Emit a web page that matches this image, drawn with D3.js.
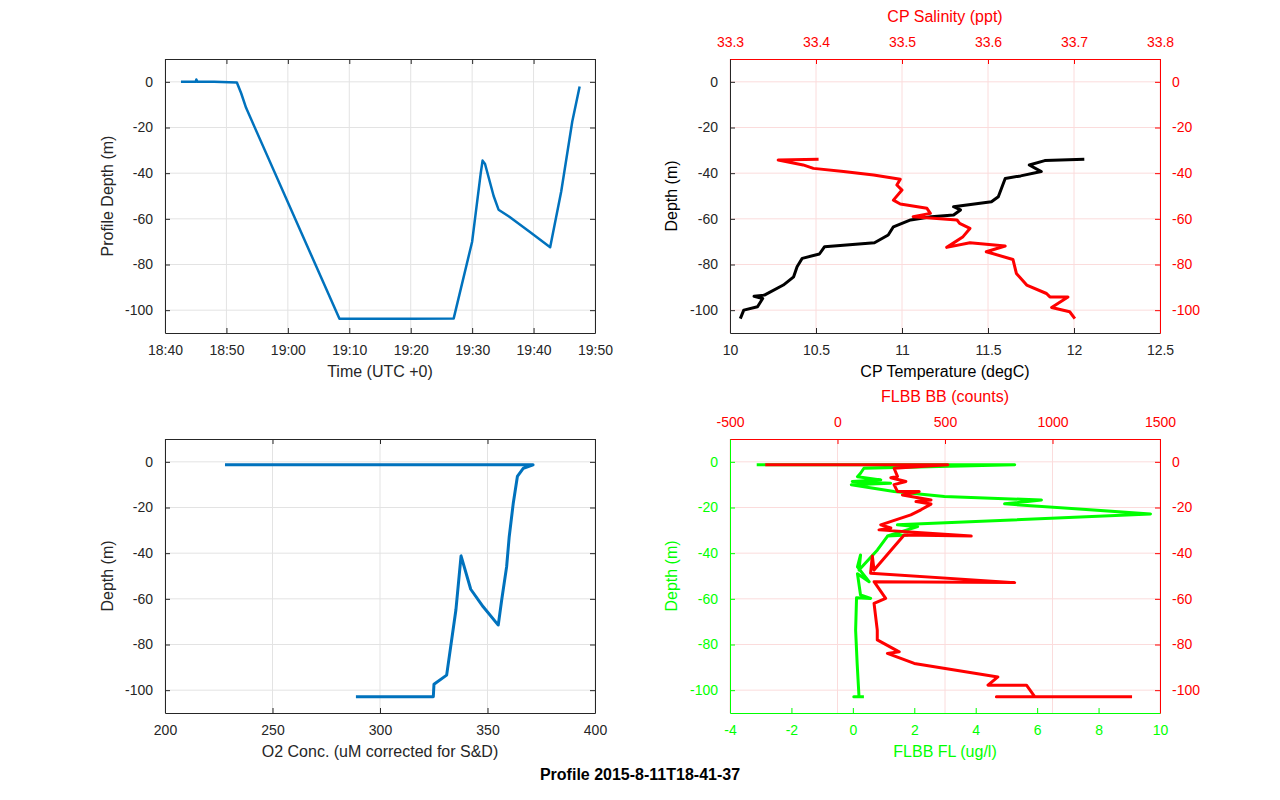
<!DOCTYPE html>
<html>
<head>
<meta charset="utf-8">
<script src="https://cdn.jsdelivr.net/npm/d3@7"></script>
<style>
body { margin: 0; background: #fff; }
text { font-family: "Liberation Sans", Arial, sans-serif; }
</style>
</head>
<body>
<svg id="chart" width="1280" height="800"></svg>
<script>
// Panel 1: time (minutes after 18:00) vs profile depth
var timeMin = [42.6, 44.5, 45.0, 45.1, 45.3, 48.0, 51.7, 52.4, 53.2, 68.4, 75.0, 80.0, 87.0, 90.0, 91.4, 91.7, 92.1, 93.5, 94.3, 96.0, 99.3, 102.7, 104.5, 106.3, 107.5];
var profDepth = [0, 0, 0, 1, 0, 0, -0.3, -5, -11.4, -103.8, -103.8, -103.8, -103.6, -70, -40, -34.5, -36, -50, -56, -59, -65.6, -72.4, -48, -17.4, -2];

// Panel 2: temperature and salinity vs depth
var tempVal = [10.06, 10.08, 10.16, 10.19, 10.14, 10.20, 10.31, 10.37, 10.39, 10.42, 10.52, 10.55, 10.84, 10.92, 10.95, 11.05, 11.17, 11.30, 11.34, 11.30, 11.52, 11.56, 11.60, 11.69, 11.81, 11.74, 11.83, 12.06];
var tempDepth = [-103.7, -100, -98.5, -94.9, -93.9, -93.4, -89, -85.4, -81, -77.3, -75.4, -72.2, -70.5, -67.1, -63.5, -60.5, -59.1, -58.3, -56.1, -54.7, -52.5, -50.3, -42.3, -41.2, -39.3, -36.4, -34.5, -33.9];
var salVal = [33.403, 33.356, 33.385, 33.397, 33.432, 33.467, 33.498, 33.494, 33.500, 33.490, 33.498, 33.529, 33.533, 33.513, 33.564, 33.567, 33.579, 33.571, 33.552, 33.579, 33.620, 33.598, 33.629, 33.633, 33.645, 33.668, 33.672, 33.693, 33.674, 33.695, 33.701];
var salDepth = [-33.9, -34.2, -36.4, -37.9, -39.3, -40.8, -42.7, -45.2, -47.4, -51.8, -53.5, -55.4, -57.6, -59.1, -60.5, -62, -64.2, -67.8, -72.5, -70.5, -71.9, -74.4, -77.8, -83.9, -89, -92.7, -94.2, -94.2, -98.8, -100.7, -103.7];

// Panel 3: oxygen vs depth
var o2Val = [227.9, 371.2, 366.7, 363.9, 362.0, 360.1, 358.9, 356.6, 355.0, 348.0, 342.2, 337.7, 335.3, 331.0, 325.1, 324.8, 288.8];
var o2Depth = [-1.3, -1.3, -2.8, -6.4, -18, -32.8, -45.9, -60.5, -71.5, -63.5, -55.8, -41.2, -64.9, -93.4, -97.4, -102.9, -102.9];

// Panel 4: FLBB fluorescence and backscatter vs depth
var flVal = [-3.13, 5.27, 0.36, 0.25, 0.15, 0.91, -0.02, 1.23, -0.05, 1.34, 2.98, 6.14, 4.94, 9.69, 1.45, 2.11, 1.13, 1.78, 1.13, 0.8, 0.2, 0.25, 0.15, 0.53, 0.15, 0.25, 0.58, 0.12, 0.09, 0.14, 0.2, 0.03, 0.36];
var flDepth = [-1.3, -1.3, -2.8, -5, -6.5, -7.9, -8.6, -9.4, -10, -13, -15.2, -16.7, -18.4, -22.8, -27.6, -28.4, -32.5, -32, -32.5, -38.6, -47.4, -40.8, -46, -52.5, -49, -58.3, -59.8, -59.5, -73.7, -88.3, -102.9, -102.9, -102.9];
var bbVal = [-336, 513, 263, 279, 248, 318, 263, 279, 380, 302, 435, 365, 435, 388, 341, 201, 248, 193, 622, 310, 170, 162, 154, 824, 170, 224, 170, 185, 185, 287, 232, 357, 746, 700, 879, 918, 739, 1370];
var bbDepth = [-1.3, -1.3, -2.8, -6.4, -7, -8.6, -10, -13, -13, -14.5, -16.7, -17.4, -18.5, -21, -23.2, -27.6, -29, -29.8, -32.5, -32, -47.4, -41.2, -48.8, -52.9, -52.5, -59.8, -62, -73.7, -78, -83.2, -83.9, -88.3, -94.2, -97.8, -97.8, -102.9, -102.9, -102.9];

var depthTicks = [0, -20, -40, -60, -80, -100];
var blue = "#0072BD", red = "#FF0000", green = "#00FF00";

var svg = d3.select("#chart");

function pts(xs, ys) {
    return xs.map(function(v, i) { return [v, ys[i]]; });
}

// draw one side of a box with inward ticks
function axisSide(g, scale, orient, ticks, fmt, color, pos) {
    var ax;
    if (orient == "bottom") ax = d3.axisBottom(scale);
    else if (orient == "top") ax = d3.axisTop(scale);
    else if (orient == "left") ax = d3.axisLeft(scale);
    else ax = d3.axisRight(scale);
    ax.tickValues(ticks).tickFormat(fmt).tickSizeInner(-5).tickSizeOuter(0).tickPadding(12);
    var a = g.append("g").attr("transform", pos).call(ax);
    a.select(".domain").attr("stroke", color);
    a.selectAll(".tick line").attr("stroke", color);
    a.selectAll(".tick text").attr("fill", color).style("font-size", "14px");
    return a;
}

function panel(opt) {
    var g = svg.append("g").attr("transform", "translate(" + opt.x0 + "," + opt.y0 + ")");
    var w = opt.w, h = opt.h;
    var y = d3.scaleLinear().domain([-110, 10]).range([h, 0]);
    var gx = opt.gridScale, gc = opt.gridColor;
    // grid
    g.selectAll(".gv").data(opt.gridTicks).enter().append("line")
        .attr("x1", function(d) { return gx(d); }).attr("x2", function(d) { return gx(d); })
        .attr("y1", 0).attr("y2", h).attr("stroke", gc).attr("stroke-width", 1);
    g.selectAll(".gh").data(depthTicks).enter().append("line")
        .attr("x1", 0).attr("x2", w).attr("y1", function(d) { return y(d); }).attr("y2", function(d) { return y(d); })
        .attr("stroke", gc).attr("stroke-width", 1);
    opt.y = y;
    return g;
}

function drawLine(g, xs, y, data, color, width) {
    g.append("path").datum(data)
        .attr("fill", "none").attr("stroke", color).attr("stroke-width", width)
        .attr("stroke-linejoin", "round")
        .attr("d", d3.line().x(function(d) { return xs(d[0]); }).y(function(d) { return y(d[1]); }));
}

function label(txt, x, y, color, rot, bold) {
    var t = svg.append("text").attr("x", x).attr("y", y).attr("text-anchor", "middle")
        .attr("fill", color).style("font-size", "16px").text(txt);
    if (bold) t.style("font-weight", "bold");
    if (rot) t.attr("transform", "rotate(-90," + x + "," + y + ")");
}

var W = 430, H = 274, LX = 165, RX = 730, TY = 59, BY = 439;
var fmtNum = function(d) { return d; };

// ---- Panel 1
var t0 = new Date(2015, 7, 11, 18, 0, 0);
var toDate = function(m) { return new Date(t0.getTime() + m * 60000); };
var x1 = d3.scaleTime().domain([toDate(40), toDate(110)]).range([0, W]);
var timeTicks = d3.range(40, 111, 10).map(toDate);
var o1 = { x0: LX, y0: TY, w: W, h: H, gridScale: x1, gridTicks: timeTicks, gridColor: "#e3e3e3" };
var g1 = panel(o1);
drawLine(g1, x1, o1.y, timeMin.map(function(m, i) { return [toDate(m), profDepth[i]]; }), blue, 2.5);
axisSide(g1, x1, "bottom", timeTicks, d3.timeFormat("%H:%M"), "#262626", "translate(0," + H + ")");
axisSide(g1, x1, "top", timeTicks, "", "#262626", "translate(0,0)");
axisSide(g1, o1.y, "left", depthTicks, fmtNum, "#262626", "translate(0,0)");
axisSide(g1, o1.y, "right", depthTicks, "", "#262626", "translate(" + W + ",0)");
label("Time (UTC +0)", LX + W / 2, 377, "#262626");
label("Profile Depth (m)", 113, TY + H / 2, "#262626", true);

// ---- Panel 2
var x2 = d3.scaleLinear().domain([10, 12.5]).range([0, W]);
var x2s = d3.scaleLinear().domain([33.3, 33.8]).range([0, W]);
var salTicks = [33.3, 33.4, 33.5, 33.6, 33.7, 33.8];
var o2 = { x0: RX, y0: TY, w: W, h: H, gridScale: x2s, gridTicks: salTicks, gridColor: "#fbdcdc" };
var g2 = panel(o2);
drawLine(g2, x2, o2.y, pts(tempVal, tempDepth), "#000", 3);
drawLine(g2, x2s, o2.y, pts(salVal, salDepth), red, 3);
axisSide(g2, x2, "bottom", [10, 10.5, 11, 11.5, 12, 12.5], fmtNum, "#262626", "translate(0," + H + ")");
axisSide(g2, x2s, "top", salTicks, fmtNum, red, "translate(0,0)");
axisSide(g2, o2.y, "left", depthTicks, fmtNum, "#262626", "translate(0,0)");
axisSide(g2, o2.y, "right", depthTicks, fmtNum, red, "translate(" + W + ",0)");
label("CP Temperature (degC)", RX + W / 2, 377, "#000");
label("CP Salinity (ppt)", RX + W / 2, 22, red);
label("Depth (m)", 677, TY + H / 2, "#000", true);

// ---- Panel 3
var x3 = d3.scaleLinear().domain([200, 400]).range([0, W]);
var o2Ticks = [200, 250, 300, 350, 400];
var o3 = { x0: LX, y0: BY, w: W, h: H, gridScale: x3, gridTicks: o2Ticks, gridColor: "#e3e3e3" };
var g3 = panel(o3);
drawLine(g3, x3, o3.y, pts(o2Val, o2Depth), blue, 3);
axisSide(g3, x3, "bottom", o2Ticks, fmtNum, "#262626", "translate(0," + H + ")");
axisSide(g3, x3, "top", o2Ticks, "", "#262626", "translate(0,0)");
axisSide(g3, o3.y, "left", depthTicks, fmtNum, "#262626", "translate(0,0)");
axisSide(g3, o3.y, "right", depthTicks, "", "#262626", "translate(" + W + ",0)");
label("O2 Conc. (uM corrected for S&D)", LX + W / 2, 757, "#262626");
label("Depth (m)", 113, BY + H / 2, "#262626", true);

// ---- Panel 4
var x4 = d3.scaleLinear().domain([-4, 10]).range([0, W]);
var x4b = d3.scaleLinear().domain([-500, 1500]).range([0, W]);
var bbTicks = [-500, 0, 500, 1000, 1500];
var o4 = { x0: RX, y0: BY, w: W, h: H, gridScale: x4b, gridTicks: bbTicks, gridColor: "#fbdcdc" };
var g4 = panel(o4);
drawLine(g4, x4, o4.y, pts(flVal, flDepth), green, 3);
drawLine(g4, x4b, o4.y, pts(bbVal, bbDepth), red, 3);
axisSide(g4, x4, "bottom", [-4, -2, 0, 2, 4, 6, 8, 10], fmtNum, green, "translate(0," + H + ")");
axisSide(g4, x4b, "top", bbTicks, fmtNum, red, "translate(0,0)");
axisSide(g4, o4.y, "left", depthTicks, fmtNum, green, "translate(0,0)");
axisSide(g4, o4.y, "right", depthTicks, fmtNum, red, "translate(" + W + ",0)");
label("FLBB FL (ug/l)", RX + W / 2, 757, green);
label("FLBB BB (counts)", RX + W / 2, 402, red);
label("Depth (m)", 677, BY + H / 2, green, true);

label("Profile 2015-8-11T18-41-37", 640, 780, "#000", false, true);
</script>
</body>
</html>
